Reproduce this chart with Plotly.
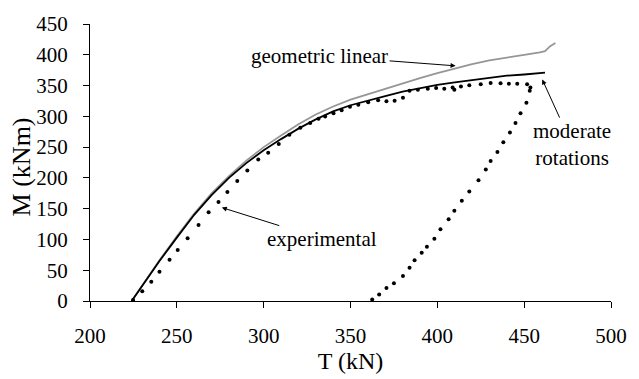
import plotly.graph_objects as go

# Moderate rotations (black)
mod_T = [224, 230, 240, 250, 260, 270, 280, 290, 300, 310, 320, 330, 340, 350,
         360, 370, 380, 390, 400, 410, 420, 430, 440, 450, 462]
mod_M = [0, 25, 65, 103, 140, 172, 200, 224, 245, 263, 280, 295, 308, 318,
         326, 333, 340, 346, 351, 355, 359, 363, 366, 368, 371]

# Geometric linear (gray)
geo_T = [224, 230, 240, 250, 260, 270, 280, 290, 300, 310, 320, 330, 340, 350,
         360, 370, 380, 390, 400, 410, 420, 430, 440, 450, 459, 462, 465, 468]
geo_M = [0, 25, 66, 105, 142, 175, 203, 228, 250, 269, 287, 303, 316, 327,
         336, 345, 354, 362, 370, 378, 385, 391, 396, 400, 404, 406, 414, 419]

# Experimental (dots)
exp_T = [224.8, 230.1, 235.3, 240.0, 245.8, 250.5, 256.2, 262.5, 268.3, 274.0, 279.1,
         284.8, 290.6, 296.9, 302.6, 308.7, 314.8, 321.1, 326.8, 331.6, 335.4, 340.2,
         344.9, 349.7, 354.5, 360.2, 365.9, 370.7, 375.4, 380.2, 384.0, 388.8, 394.5,
         399.3, 404.0, 408.8, 409.8, 413.6, 418.4, 425.0, 430.7, 436.4, 441.2, 446.0,
         451.7, 453.6, 453.2, 451.3, 447.9, 445.0, 441.8, 438.0, 434.6, 430.7, 427.9,
         423.7, 418.4, 414.1, 409.8, 406.5, 401.8, 398.3, 394.0, 391.0, 386.9, 384.0,
         380.2, 375.0, 370.7, 366.5, 362.5]
exp_M = [1.5, 15.7, 31.4, 47.6, 67, 82.7, 102, 123.5, 144, 161, 177,
         195, 212, 230, 241, 255, 270, 281.5, 289, 296, 299.8, 305,
         310, 315.5, 319, 323, 326, 324.5, 325.5, 330, 341.7, 343, 345,
         346, 345, 347, 343, 348.5, 350.5, 352, 354, 353.7, 353, 353,
         352, 347, 341.7, 322, 305, 289, 273.6, 258, 242, 227.6, 213.5,
         196, 178, 162.8, 146.5, 133, 116.6, 101, 88, 78.5, 66, 54,
         40.8, 29, 21, 10.5, 2.6]

x_ticks = [200, 250, 300, 350, 400, 450, 500]
y_ticks = [0, 50, 100, 150, 200, 250, 300, 350, 400, 450]

FONT = "Times New Roman, Liberation Serif, serif"

fig = go.Figure()
fig.add_trace(go.Scatter(x=geo_T, y=geo_M, mode="lines",
                         line=dict(color="#969696", width=1.8), name="geometric linear"))
fig.add_trace(go.Scatter(x=mod_T, y=mod_M, mode="lines",
                         line=dict(color="black", width=1.8), name="moderate rotations"))
fig.add_trace(go.Scatter(x=exp_T, y=exp_M, mode="markers",
                         marker=dict(color="black", size=4), name="experimental"))

ann_common = dict(xref="x", yref="y", axref="x", ayref="y", showarrow=True,
                  arrowhead=2, arrowsize=1, arrowwidth=1, arrowcolor="black",
                  font=dict(family=FONT, size=21, color="black"))
fig.add_annotation(x=410.5, y=382, ax=332.2, ay=398.7, text="geometric linear", **ann_common)
fig.add_annotation(x=460.4, y=360, ax=477.5, ay=254, text="moderate<br>rotations", **ann_common)
fig.add_annotation(x=275.9, y=151.8, ax=333.7, ay=100.5, text="experimental", **ann_common)

# y-axis title placed as rotated text
fig.add_annotation(xref="paper", yref="paper", x=-0.131, y=0.485, xanchor="center",
                   yanchor="middle", text="M (kNm)", textangle=-90, showarrow=False,
                   font=dict(family=FONT, size=26, color="black"))

fig.update_layout(
    width=639, height=379,
    margin=dict(l=90, r=25, t=19, b=73),
    paper_bgcolor="white", plot_bgcolor="white",
    showlegend=False,
    font=dict(family=FONT, size=21, color="black"),
)
fig.update_xaxes(range=[200, 500], tickvals=x_ticks, ticks="outside", ticklen=6,
                 tickcolor="black", showline=True, linecolor="black", linewidth=1,
                 showgrid=False, zeroline=False, ticklabelstandoff=10,
                 tickfont=dict(family=FONT, size=21, color="black"),
                 title=dict(text="T (kN)", font=dict(family=FONT, size=24), standoff=2))
fig.update_yaxes(range=[0, 450], tickvals=y_ticks, ticks="outside", ticklen=6,
                 tickcolor="black", showline=True, linecolor="black", linewidth=1,
                 showgrid=False, zeroline=False, ticklabelstandoff=11,
                 tickfont=dict(family=FONT, size=21, color="black"))

fig.write_html("out.html")
